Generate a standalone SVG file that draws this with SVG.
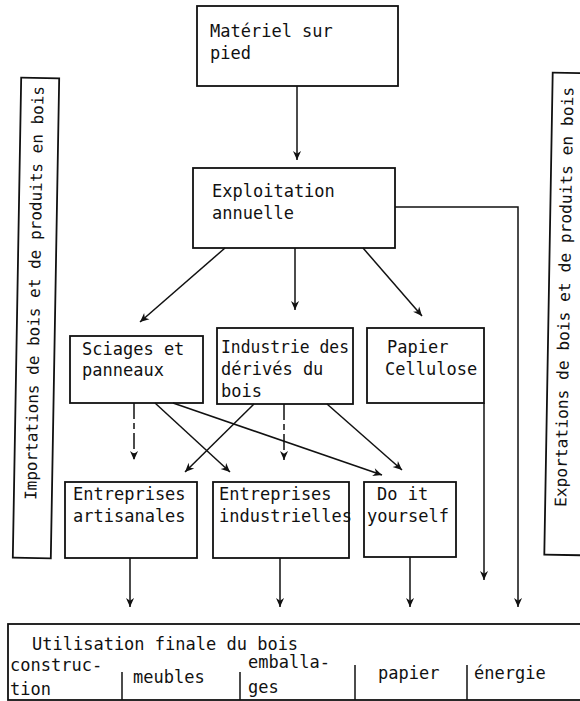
<svg xmlns="http://www.w3.org/2000/svg" width="580" height="701" viewBox="0 0 580 701">
<style>
.box{fill:none;stroke:#111;stroke-width:1.8}
.t{font-family:"DejaVu Sans Mono","Liberation Mono",monospace;font-size:17px;fill:#111}
.tv{font-family:"DejaVu Sans Mono","Liberation Mono",monospace;font-size:16px;fill:#111}
.c{fill:none;stroke:#111;stroke-width:1.5}
.d{stroke-dasharray:16,4,6,4}
</style>
<defs>
<marker id="ah" viewBox="0 0 10 10" markerUnits="userSpaceOnUse" markerWidth="10" markerHeight="9" refX="10" refY="5" orient="auto">
<path d="M10,5 L0,0.5 L3,5 L0,9.5 Z" fill="#111"/>
</marker>
</defs>
<rect width="580" height="701" fill="#fff"/>

<g id="materiel">
<rect class="box" x="197" y="6" width="201" height="80"/>
<text class="t" x="210" y="37">Matériel sur</text>
<text class="t" x="210" y="59">pied</text>
</g>

<g id="exploitation">
<rect class="box" x="193" y="168" width="202" height="80"/>
<text class="t" x="212" y="197">Exploitation</text>
<text class="t" x="212" y="219">annuelle</text>
</g>

<g id="sciages">
<rect class="box" x="70" y="336" width="133" height="67"/>
<text class="t" x="82" y="355">Sciages et</text>
<text class="t" x="82" y="376">panneaux</text>
</g>

<g id="industrie">
<rect class="box" x="217" y="328" width="136" height="76"/>
<text class="t" x="221" y="353" textLength="128" lengthAdjust="spacingAndGlyphs">Industrie des</text>
<text class="t" x="221" y="375">dérivés du</text>
<text class="t" x="221" y="397">bois</text>
</g>

<g id="papier">
<rect class="box" x="367" y="328" width="117" height="75"/>
<text class="t" x="387" y="353">Papier</text>
<text class="t" x="385" y="375">Cellulose</text>
</g>

<g id="artisanales">
<rect class="box" x="65" y="482" width="132" height="76"/>
<text class="t" x="73" y="500">Entreprises</text>
<text class="t" x="73" y="522">artisanales</text>
</g>

<g id="industrielles">
<rect class="box" x="213" y="482" width="136" height="76"/>
<text class="t" x="219" y="500">Entreprises</text>
<text class="t" x="219" y="522">industrielles</text>
</g>

<g id="doityourself">
<rect class="box" x="364" y="482" width="92" height="75"/>
<text class="t" x="377" y="500">Do it</text>
<text class="t" x="367" y="522">yourself</text>
</g>

<g id="importations" transform="rotate(1 36 318)">
<rect class="box" x="17" y="78" width="38" height="480"/>
<text class="tv" transform="translate(39.5 500) rotate(-90)" textLength="414" lengthAdjust="spacingAndGlyphs">Importations de bois et de produits en bois</text>
</g>

<g id="exportations" transform="rotate(1 568 314)">
<rect class="box" x="548.5" y="73" width="45" height="482"/>
<text class="tv" transform="translate(569.5 507) rotate(-90)" textLength="420" lengthAdjust="spacingAndGlyphs">Exportations de bois et de produits en bois</text>
</g>

<g id="utilisation">
<rect class="box" x="8" y="624" width="585" height="76"/>
<text class="t" x="32" y="650">Utilisation finale du bois</text>
<line class="c" x1="122" y1="672" x2="122" y2="700"/>
<line class="c" x1="240" y1="672" x2="240" y2="700"/>
<line class="c" x1="355" y1="665" x2="355" y2="700"/>
<line class="c" x1="467" y1="665" x2="467" y2="700"/>
<text class="t" x="10" y="671">construc-</text>
<text class="t" x="10" y="695">tion</text>
<text class="t" x="133" y="683">meubles</text>
<text class="t" x="248" y="668">emballa-</text>
<text class="t" x="248" y="693">ges</text>
<text class="t" x="378" y="679">papier</text>
<text class="t" x="474" y="679">énergie</text>
</g>

<g id="connectors">
<line class="c" x1="297" y1="86" x2="297" y2="160" marker-end="url(#ah)"/>
<line class="c" x1="225" y1="248" x2="140" y2="322" marker-end="url(#ah)"/>
<line class="c" x1="295" y1="248" x2="295" y2="310" marker-end="url(#ah)"/>
<line class="c" x1="363" y1="248" x2="422" y2="316" marker-end="url(#ah)"/>
<polyline class="c" points="395,207 518,207 518,607" marker-end="url(#ah)"/>
<line class="c d" x1="134" y1="403" x2="134" y2="460" marker-end="url(#ah)"/>
<line class="c" x1="155" y1="403" x2="230" y2="472" marker-end="url(#ah)"/>
<line class="c" x1="173" y1="403" x2="382" y2="475" marker-end="url(#ah)"/>
<line class="c" x1="254" y1="404" x2="185" y2="472" marker-end="url(#ah)"/>
<line class="c d" x1="284" y1="404" x2="284" y2="460" marker-end="url(#ah)"/>
<line class="c" x1="327" y1="404" x2="402" y2="470" marker-end="url(#ah)"/>
<line class="c" x1="484" y1="403" x2="484" y2="580" marker-end="url(#ah)"/>
<line class="c" x1="130" y1="558" x2="130" y2="607" marker-end="url(#ah)"/>
<line class="c" x1="280" y1="558" x2="280" y2="607" marker-end="url(#ah)"/>
<line class="c" x1="410" y1="557" x2="410" y2="607" marker-end="url(#ah)"/>
</g>
</svg>
